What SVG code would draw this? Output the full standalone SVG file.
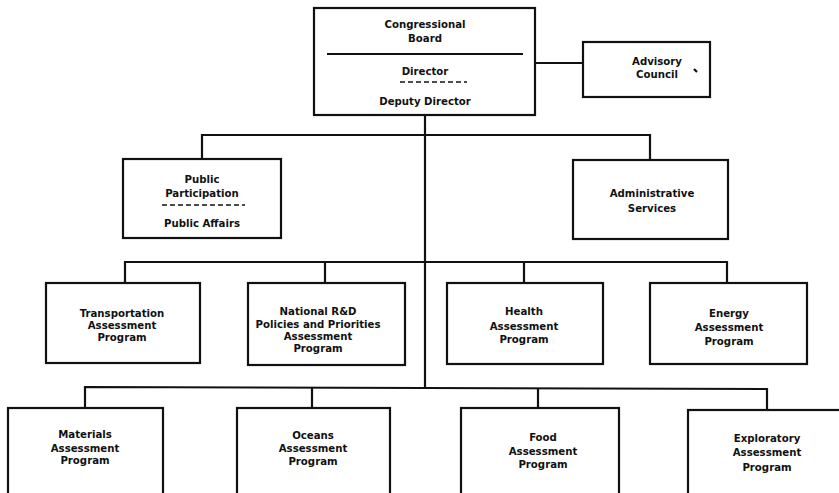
<svg xmlns="http://www.w3.org/2000/svg" width="839" height="493" viewBox="0 0 839 493">
<style>
.box{fill:#fff;stroke:#111;stroke-width:2.2}
.ln{fill:none;stroke:#111;stroke-width:2.2}
.dash{fill:none;stroke:#111;stroke-width:1.4;stroke-dasharray:5 3}
text{font-family:"DejaVu Sans Condensed","Liberation Sans",Arial,sans-serif;font-weight:bold;font-size:11.3px;fill:#111;text-anchor:middle}
</style>
<rect width="839" height="493" fill="#fff"/>
<g id="connectors">
<line class="ln" x1="425" y1="115" x2="425" y2="387"/>
<line class="ln" x1="535" y1="63" x2="583" y2="63"/>
<polyline class="ln" points="202,159 202,135 650,135 650,160"/>
<polyline class="ln" points="125,283 125,262 727,262 727,283"/>
<line class="ln" x1="325" y1="262" x2="325" y2="283"/>
<line class="ln" x1="524" y1="262" x2="524" y2="283"/>
<polyline class="ln" points="85,408 85,387 767,389 767,410"/>
<line class="ln" x1="312" y1="387" x2="312" y2="408"/>
<line class="ln" x1="538" y1="388" x2="538" y2="408"/>
</g>
<g id="congressional-board">
<rect class="box" x="314" y="8" width="221" height="107"/>
<text x="425" y="28">Congressional</text>
<text x="425" y="42">Board</text>
<line class="ln" x1="327" y1="54" x2="523" y2="54"/>
<text x="425" y="75">Director</text>
<line class="dash" x1="400" y1="82" x2="467" y2="82"/>
<text x="425" y="105">Deputy Director</text>
</g>
<g id="advisory-council">
<rect class="box" x="583" y="42" width="127" height="55"/>
<text x="657" y="65">Advisory</text>
<text x="657" y="78">Council</text>
<line class="ln" x1="694" y1="69" x2="697" y2="72" stroke-width="2"/>
</g>
<g id="public-participation">
<rect class="box" x="123" y="159" width="158" height="79"/>
<text x="202" y="183">Public</text>
<text x="202" y="197">Participation</text>
<line class="dash" x1="162" y1="205" x2="245" y2="205"/>
<text x="202" y="227">Public Affairs</text>
</g>
<g id="administrative-services">
<rect class="box" x="573" y="160" width="155" height="79"/>
<text x="652" y="197">Administrative</text>
<text x="652" y="212">Services</text>
</g>
<g id="transportation">
<rect class="box" x="46" y="283" width="154" height="80"/>
<text x="122" y="317">Transportation</text>
<text x="122" y="329">Assessment</text>
<text x="122" y="341">Program</text>
</g>
<g id="national-rd">
<rect class="box" x="248" y="283" width="157" height="82"/>
<text x="318" y="315">National R&amp;D</text>
<text x="318" y="328">Policies and Priorities</text>
<text x="318" y="340">Assessment</text>
<text x="318" y="352">Program</text>
</g>
<g id="health">
<rect class="box" x="447" y="283" width="156" height="81"/>
<text x="524" y="315">Health</text>
<text x="524" y="330">Assessment</text>
<text x="524" y="343">Program</text>
</g>
<g id="energy">
<rect class="box" x="650" y="283" width="157" height="81"/>
<text x="729" y="317">Energy</text>
<text x="729" y="331">Assessment</text>
<text x="729" y="345">Program</text>
</g>
<g id="materials">
<rect class="box" x="8" y="408" width="155" height="100"/>
<text x="85" y="438">Materials</text>
<text x="85" y="452">Assessment</text>
<text x="85" y="464">Program</text>
</g>
<g id="oceans">
<rect class="box" x="237" y="408" width="153" height="100"/>
<text x="313" y="439">Oceans</text>
<text x="313" y="452">Assessment</text>
<text x="313" y="465">Program</text>
</g>
<g id="food">
<rect class="box" x="461" y="408" width="158" height="100"/>
<text x="543" y="441">Food</text>
<text x="543" y="455">Assessment</text>
<text x="543" y="468">Program</text>
</g>
<g id="exploratory">
<rect class="box" x="688" y="410" width="200" height="100"/>
<text x="767" y="442">Exploratory</text>
<text x="767" y="456">Assessment</text>
<text x="767" y="471">Program</text>
</g>
</svg>
